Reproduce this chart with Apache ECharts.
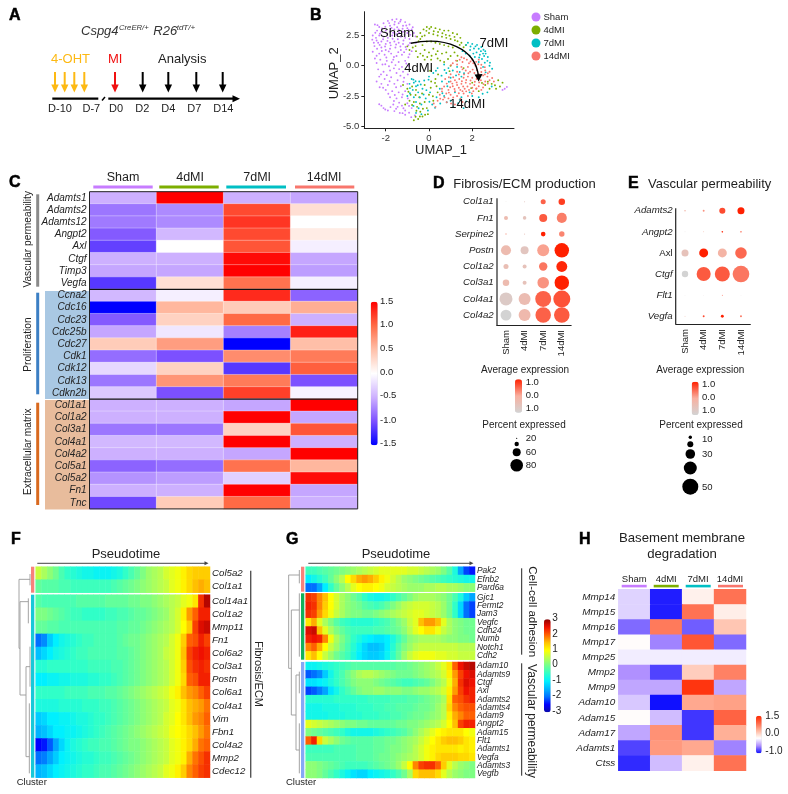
<!DOCTYPE html>
<html>
<head>
<meta charset="utf-8">
<title>Cspg4 lineage panels</title>
<style>
html,body{margin:0;padding:0;background:#fff;}
#main{width:788px;height:794px;}
</style>
<script src="https://cdn.jsdelivr.net/npm/echarts@6/dist/echarts.min.js"></script>
</head>
<body>
<div id="main"></div>
<script>
var fontName = '"Liberation Sans", Arial, sans-serif';
var groups = ['Sham', '4dMI', '7dMI', '14dMI'];
var groupColors = ['#C77CFF', '#7CAE00', '#00BFC4', '#F8766D'];

// panel B, UMAP coordinates
var umapSham = [[-2.5,3.4],[-2.3,3.2],[-2.1,3.5],[-1.9,3.7],[-1.7,3.8],[-1.5,3.85],[-1.3,3.8],[-1.1,3.6],[-0.9,3.4],[-1.8,3.3],[-1.6,3.4],[-1.4,3.5],[-1.2,3.3],[-1,3.1],[-0.8,3.0],[-2.4,2.9],[-2.2,2.8],[-2,2.9],[-1.8,2.8],[-1.6,3],[-1.4,3],[-1.2,2.8],[-1,2.7],[-0.7,2.7],[-2.6,2.5],[-2.45,2.3],[-2.3,2.5],[-2.1,2.4],[-1.9,2.3],[-1.7,2.5],[-1.5,2.6],[-1.3,2.4],[-1.1,2.3],[-0.9,2.2],[-2.55,1.9],[-2.35,1.9],[-2.2,2],[-2,1.8],[-1.8,1.9],[-1.6,2],[-1.4,1.9],[-1.2,1.8],[-0.95,1.7],[-0.6,1.9],[-2.4,1.4],[-2.2,1.5],[-2,1.3],[-1.8,1.4],[-1.55,1.5],[-1.3,1.3],[-1.05,1.35],[-0.8,1.2],[-2.3,1],[-2.05,.9],[-1.75,1],[-1.5,.8],[-1.25,.9],[-.95,.7],[-2.5,.6],[-2.25,.5],[-1.95,.4],[-1.65,.5],[-1.4,.3],[-1.1,.4],[-2.15,.1],[-1.85,-.05],[-1.55,.05],[-1.25,-.1],[-.95,0],[-2.35,-.3],[-2.1,-.5],[-1.8,-.4],[-1.5,-.6],[-1.2,-.5],[-2.3,-.9],[-2.05,-1.1],[-1.75,-.95],[-1.45,-1.2],[-1.15,-1],[-2.2,-1.5],[-1.9,-1.6],[-1.6,-1.5],[-1.3,-1.7],[-1.0,-1.5],[-2.0,-2.0],[-1.7,-2.1],[-1.4,-2.2],[-1.1,-2.1],[-1.8,-2.6],[-1.5,-2.7],[-1.25,-2.6],[-2.2,-3.3],[-2.1,-3.5],[-1.9,-3.7],[-1.65,-3.2],[-1.45,-3.4],[-1.25,-3.3],[-1.6,-3.75],[-1.35,-3.9],[-1.1,-3.7],[-1.0,-3.1],[-.8,-3.5],[-.65,-4.1],[-1.1,-4.05],[3.6,-1.75],[3.5,-1.9],[3.4,-2.0],
  [-2.62,2.15],[-2.48,2.72],[-2.38,3.35],[-2.27,2.65],[-2.17,3.08],[-2.02,3.22],[-1.93,2.62],[-1.84,3.52],[-1.73,3.12],[-1.66,2.72],[-1.58,3.62],[-1.47,3.18],[-1.38,2.75],[-1.33,3.65],[-1.22,3.05],[-1.13,2.55],[-1.05,3.32],[-.94,2.95],[-.86,2.55],[-.75,3.18],[-.62,2.42],[-2.52,1.62],[-2.42,2.08],[-2.28,1.72],[-2.12,2.18],[-2.03,1.58],[-1.92,2.05],[-1.77,1.68],[-1.68,2.22],[-1.52,1.75],[-1.44,2.18],[-1.32,1.58],[-1.18,2.08],[-1.08,1.55],[-.88,1.88],[-2.6,1.15],[-2.42,.82],[-2.18,1.22],[-1.97,.68],[-1.86,1.18],[-1.62,.72],[-1.42,1.12],[-1.15,1.12],[-.9,.95],[-2.42,.22],[-2.02,.12],[-1.72,.28],[-1.38,-.28],[-1.05,.18],[-2.22,-.72],[-1.95,-.78],[-1.62,-.22],[-1.32,-.82],[-.98,-.72],[-2.42,-1.3],[-2.12,-1.82],[-1.82,-1.28],[-1.52,-1.78],[-1.18,-1.32],[-2.28,-1.78],[-1.88,-2.32],[-1.58,-2.42],[-1.22,-2.38],[-.98,-2.7],[-1.62,-2.92],[-1.38,-3.05],[-2.3,-3.18],[-2.02,-3.62],[-1.78,-3.42],[-1.52,-3.55],[-1.18,-3.52],[-.92,-3.32],[-1.22,-3.92],[-.92,-3.88],[-.82,-4.25]];
var umap4d = [[-1.0,1.6],[-.9,1.3],[-.75,1.5],[-.55,2.4],[-.4,2.7],[-.25,3],[-.1,3.2],[.1,3.2],[.3,3.1],[.5,3],[.7,2.9],[.9,2.9],[1.1,2.7],[1.3,2.6],[1.45,2.3],[-.4,2.2],[-.2,2.5],[0,2.7],[.2,2.6],[.4,2.5],[.6,2.4],[.8,2.3],[1,2.2],[1.2,2.1],[1.5,1.9],[1.7,1.7],[-.3,1.7],[-.1,2],[.1,2],[.3,1.9],[.5,1.8],[.7,1.7],[.9,1.6],[1.1,1.5],[-.6,1.2],[-.4,1],[-.2,1.3],[0,1.1],[.2,1.4],[.4,1.2],[.6,1],[.8,1.1],[1,.8],[-.2,.5],[.1,.5],[.4,.6],[.7,.3],[-1.2,-1.6],[-1,-1.9],[-.85,-2.4],[-.9,-2.9],[-1.1,-3.2],[-.7,-3],[-.55,-3.4],[-.4,-3.8],[-.3,-4.2],[-.5,-4.4],[-.7,-4.5],[-.1,-3.5],[-.2,-3],[-.45,-2.6],[-.6,-2],[-.2,-1.6],[.1,-1.3],[.3,-1.1],[0,-2.4],[.2,-2.9],[.4,-2.2],[-.05,-4],[.35,-1.7],[2.6,-1.6],[2.9,-1.5],[3.2,-1.2],[3.4,-1.4],[3.1,-1.9],[2.8,-1.9],[2.3,-2.1],[2,-1.4],[1,.0],[1.3,.4],[1.6,-.2],
  [-.62,1.62],[-.48,2.02],[-.32,2.42],[-.12,2.88],[.02,3.05],[.22,2.85],[.42,2.78],[.62,2.68],[.78,2.55],[.95,2.48],[1.18,2.38],[1.32,2.02],[1.42,1.72],[1.6,1.52],[-.52,.72],[-.28,.82],[-.08,.72],[.12,.82],[.32,.95],[.52,.42],[.88,.55],[1.18,1.1],[1.32,.82],[-.95,-2.15],[-.78,-1.72],[-.62,-2.42],[-.78,-3.25],[-.58,-3.72],[-.42,-3.12],[-.28,-3.55],[-.18,-4.05],[-.42,-4.2],[-.62,-4.22],[-.32,-2.3],[.08,-1.82],[.18,-2.52],[.28,-1.42],[.42,-.72],[.05,-.42],[2.45,-1.42],[3.05,-1.62],[3.28,-1.72],[2.72,-1.32],[1.95,-1.85],[.95,-.45]];
var umap7d = [[1.8,1.9],[2,1.8],[2.15,1.6],[2.3,1.4],[2.4,1.2],[2.5,1],[2.55,.8],[2.2,1.1],[2.35,.9],[2.6,1.2],[1.9,1.3],[2.05,1],[1.7,1.0],[1.55,1.2],[2.45,.55],[2.7,.4],[2.8,.0],[2.5,-.1],[2.3,.3],[.9,-.2],[1.1,-.4],[1.3,-.1],[.8,-.6],[1,-1],[1.25,-.8],[1.5,-.9],[-.8,-1.1],[-.7,-1.4],[-.6,-1.7],[-.75,-2],[-.45,-1.3],[-.3,-1.9],[-.5,-2.2],[-.7,-2.6],[-.9,-1.5],[-1,-2.5],[-.6,-3],[-.35,-3.2],[-.15,-2.7],[.05,-2.2],[.15,-3.2],[.35,-2.6],[-.05,-3.7],[.5,-1.9],[.7,-2.5],[.6,-1.3],[.85,-1.7],[-.35,-4],[-.6,-3.9],[1,-2.9],[1.35,-3.1],[1.6,-3.5],[1.5,-2.6],[1.2,-2.2],[2,-2.5],[2.3,-2.6],[2.7,-2.2],[.2,-.6],[.0,-.9],[.4,-.2],[.7,.1],
  [1.72,1.72],[1.92,1.58],[2.08,1.42],[2.22,1.72],[2.42,1.55],[2.52,1.32],[2.62,1],[2.72,.72],[2.32,.68],[2.12,.72],[1.88,.82],[2.58,.25],[2.82,.25],[2.92,-.25],[2.62,-.55],[.72,-.35],[.58,-.82],[.92,-1.32],[1.42,-.52],[1.62,-.62],[-.88,-1.85],[-.72,-1.15],[-.62,-1.28],[-.52,-1.62],[-.38,-1.55],[-.22,-1.22],[-.12,-2.02],[-.88,-2.28],[-.42,-2.62],[-.25,-2.38],[-.72,-3.32],[-.48,-3.52],[.02,-2.98],[.28,-3.48],[.52,-3.12],[.62,-2.28],[.82,-3.02],[1.12,-3.42],[1.42,-2.82],[1.72,-2.95],[1.88,-2.2],[2.48,-2.32],[2.9,-1.72],[-.02,-1.15],[.32,-.42]];
var umap14d = [[.75,-1.1],[1,-.7],[1.3,-.5],[1.55,-.3],[1.8,-.1],[2.05,.2],[2.3,.5],[1.5,.7],[1.75,.5],[2,.5],[1.55,.3],[1.85,.2],[2.15,0],[2.4,-.2],[2.6,-.4],[2.8,-.5],[1.1,.2],[1.3,.1],[1.5,-.1],[1.7,-.4],[1.9,-.5],[2.1,-.6],[2.3,-.7],[2.5,-.8],[2.7,-.9],[1,-1.3],[1.2,-1.2],[1.4,-1.1],[1.6,-1],[1.8,-.9],[2,-1],[2.2,-1.1],[2.4,-1.2],[2.6,-1.3],[2.8,-1.2],[3,-1.3],[.6,-1.9],[.9,-2],[1.1,-1.7],[1.3,-1.6],[1.5,-1.5],[1.7,-1.4],[1.9,-1.5],[2.1,-1.6],[2.3,-1.7],[2.5,-1.8],[.5,-2.4],[.8,-2.3],[1,-2.4],[1.2,-2.1],[1.45,-2],[1.65,-1.9],[1.85,-2],[2.05,-2.1],[.4,-2.9],[.65,-2.8],[.9,-2.7],[1.3,-2.5],[1.6,-2.3],[1.8,-2.5],[1.2,-3.2],[.3,-3.4],
  [1.02,.05],[1.25,.42],[1.42,.5],[1.62,.62],[1.92,.35],[2.18,.32],[2.28,.12],[2.42,.08],[2.58,-.12],[.92,-.95],[1.12,-.95],[1.38,-.72],[1.62,-.72],[1.82,-.62],[2.02,-.32],[2.22,-.38],[2.42,-.52],[2.58,-.72],[2.72,-.62],[.82,-1.48],[1.08,-1.48],[1.28,-1.38],[1.52,-1.28],[1.72,-1.18],[1.92,-1.22],[2.12,-1.32],[2.32,-1.38],[2.52,-1.52],[2.72,-1.48],[2.92,-1.02],[.7,-1.72],[.98,-1.78],[1.18,-1.92],[1.38,-1.82],[1.58,-1.72],[1.78,-1.72],[2,-1.82],[2.2,-1.88],[2.42,-2],[.6,-2.12],[.72,-2.62],[.92,-2.22],[1.12,-2.62],[1.38,-2.28],[1.55,-2.1],[1.72,-2.12],[1.98,-2.3],[.52,-2.72],[.82,-3.02],[1.02,-3.12],[1.45,-2.72],[.22,-3.12],[1.55,-3.0],[2.18,-1.9]];

// panel C
var cGenes = ['Adamts1','Adamts2','Adamts12','Angpt2','Axl','Ctgf','Timp3','Vegfa','Ccna2','Cdc16','Cdc23','Cdc25b','Cdc27','Cdk1','Cdk12','Cdk13','Cdkn2b','Col1a1','Col1a2','Col3a1','Col4a1','Col4a2','Col5a1','Col5a2','Fn1','Tnc'];
var cValues = [
  [-0.5,1.5,-0.5,-0.55],[-0.8,-0.7,1.15,0.25],[-0.78,-0.7,1.25,0.0],[-0.95,-0.45,1.15,0.15],
  [-1.1,0.0,1.1,-0.1],[-0.5,-0.5,1.45,-0.55],[-0.55,-0.55,1.5,-0.6],[-1.15,0.25,0.95,-0.1],
  [-0.45,-0.1,1.3,-0.9],[-1.5,0.55,0.4,0.6],[-0.95,0.35,1.0,-0.5],[-0.55,-0.15,-0.75,1.35],
  [0.4,0.7,-1.5,0.5],[-0.85,-1.0,0.8,0.9],[-0.25,0.35,-1.15,1.05],[-0.8,0.75,0.9,-1.0],[-0.35,-1.0,1.2,-0.08],
  [-0.5,-0.5,-0.55,1.5],[-0.5,-0.5,1.5,-0.55],[-0.8,-0.8,0.35,1.1],[-0.45,-0.45,1.5,-0.5],[-0.5,-0.5,-0.55,1.5],
  [-0.9,-0.85,0.95,0.55],[-0.65,-0.6,-0.3,1.45],[-0.5,-0.5,1.5,-0.55],[-1.05,0.4,1.0,-0.5]
];

// panel D, per gene: average expression and percent expressed per group
var dGenes = ['Col1a1','Fn1','Serpine2','Postn','Col1a2','Col3a1','Col4a1','Col4a2'];
var dAvg = [[-.8,-.6,.55,.8],[-.3,-.55,.6,.35],[0,-.5,1,.3],[-.3,-.6,.1,1],[-.4,-.5,.4,.95],[-.3,-.5,.2,1],[-.75,-.35,.55,.65],[-1,-.25,.55,.6]];
var dPct = [[20,23,42,49],[37,35,56,66],[25,23,40,44],[66,56,75,87],[42,37,58,70],[49,37,73,87],[80,75,94,99],[70,75,92,92]];

// panel E
var eGenes = ['Adamts2','Angpt2','Axl','Ctgf','Flt1','Vegfa'];
var eAvg = [[-.2,.2,.7,1],[-.8,-.2,.9,.4],[-.5,1,-.1,.5],[-1,.6,.6,.4],[-.8,-.8,.6,-.8],[-.3,.7,1,.4]];
var ePct = [[5,6,19,22],[2,3,5,5],[22,28,28,36],[20,44,47,52],[1,1,3,1],[3,6,9,6]];

// panel F, pseudotime bins left to right
var fTopGenes = ['Col5a2','Col1a1'];
var fTopValues = [
  [.6,.4,.2,0,-.3,-.5,-.6,-.7,-.8,-.8,-.9,-.9,-.9,-.8,-.7,-.5,-.3,-.1,.1,.3,.4,.5,.7,.8,.9,1.1,1.3,1.4,1.4,1.4],
  [-.1,-.2,-.2,-.2,-.3,-.3,-.4,-.4,-.4,-.4,-.4,-.4,-.4,-.3,-.2,-.1,0,.1,.2,.3,.4,.5,.6,.8,.9,1.1,1.3,1.5,1.6,1.5]
];
var fGenes = ['Col14a1','Col1a2','Mmp11','Fn1','Col6a2','Col3a1','Postn','Col6a1','Col4a1','Vim','Fbn1','Col4a2','Mmp2','Cdec12'];
var fValues = [
  [-.2,-.3,-.3,-.3,-.3,-.3,-.3,-.2,-.2,-.2,-.2,-.2,-.1,-.1,-.1,-.1,0,0,.1,.1,.2,.3,.4,.5,.6,.8,.9,1.2,2.3,2.8],
  [.1,.1,0,-.1,-.2,-.3,-.4,-.4,-.5,-.5,-.5,-.5,-.4,-.4,-.3,-.3,-.2,-.1,-.1,0,.1,.2,.3,.5,.7,1.1,1.7,2,2.4,2.4],
  [-.1,-.1,-.2,-.2,-.3,-.3,-.3,-.3,-.3,-.3,-.3,-.3,-.3,-.3,-.2,-.2,-.1,-.1,0,.1,.2,.3,.4,.5,.7,1,1.4,2.2,2.6,2.7],
  [-2,-1.8,-1.3,-1,-.8,-.7,-.6,-.5,-.4,-.4,-.3,-.3,-.3,-.3,-.2,-.1,0,0,.1,.2,.3,.4,.5,.7,.9,1.4,2,2.1,2.4,2.2],
  [-1.4,-1.2,-1,-.8,-.7,-.6,-.5,-.4,-.4,-.3,-.3,-.3,-.3,-.3,-.2,-.2,-.1,0,.1,.2,.3,.4,.6,.7,.9,1.5,2.2,2.4,2.5,2.4],
  [-.6,-.6,-.5,-.5,-.5,-.5,-.5,-.5,-.5,-.4,-.4,-.4,-.4,-.3,-.3,-.2,-.1,0,.1,.2,.3,.4,.5,.7,.9,1.4,2.1,2.3,2.4,2.3],
  [-1,-1,-.9,-.9,-.8,-.8,-.7,-.7,-.7,-.6,-.6,-.5,-.5,-.4,-.3,-.2,-.1,0,.1,.2,.3,.4,.5,.7,.9,1.3,2,2.1,2.4,2.4],
  [-.5,-.5,-.5,-.5,-.5,-.4,-.4,-.4,-.4,-.3,-.3,-.3,-.2,-.2,-.1,0,.1,.2,.3,.4,.5,.6,.7,.9,1.1,1.5,1.7,1.8,2,2.2],
  [-.7,-.7,-.7,-.7,-.6,-.6,-.6,-.6,-.5,-.5,-.5,-.4,-.4,-.3,-.2,-.1,0,.1,.2,.3,.4,.5,.6,.8,.9,1.2,1.5,1.6,1.7,1.9],
  [-1.3,-1.2,-1,-1,-.9,-.9,-.8,-.7,-.7,-.6,-.5,-.5,-.4,-.3,-.2,-.1,0,.1,.2,.3,.4,.5,.7,.8,1,1.2,1.5,1.7,1.8,2],
  [-1.5,-1.4,-1.2,-1,-1,-.9,-.9,-.8,-.7,-.6,-.5,-.4,-.3,-.2,-.1,0,.1,.2,.3,.4,.5,.6,.7,.9,1,1.1,1.3,1.5,1.7,1.9],
  [-2.5,-2.4,-2.1,-1.6,-1.2,-.9,-.7,-.6,-.5,-.4,-.4,-.3,-.3,-.2,-.1,0,.1,.1,.2,.3,.4,.5,.6,.8,.9,1.1,1.3,1.6,1.9,2],
  [-2,-1.9,-1.6,-1.3,-1,-.9,-.8,-.7,-.6,-.6,-.5,-.4,-.4,-.3,-.2,-.1,0,.1,.2,.3,.4,.5,.6,.8,.9,1.1,1.6,1.9,2.1,2.3],
  [-1.5,-1.4,-1.2,-1,-.9,-.8,-.7,-.6,-.5,-.5,-.4,-.3,-.3,-.2,-.1,0,.1,.2,.3,.4,.5,.6,.8,.9,1.1,1.4,1.8,2,2.2,2.3]
];

// panel G
var gTopGenes = ['Pak2','Efnb2','Pard6a'];
var gTopValues = [
  [-.4,-.4,-.3,-.2,-.1,0,.1,.2,.3,.4,.5,.6,.7,.8,.8,.8,.8,.8,.7,.7,.6,.5,.4,.3,.1,-.2,-.7,-1.6,-2.2,-2.4],
  [-1,-.8,-.6,-.4,-.1,.2,.5,1,1.3,1.6,1.7,1.6,1.4,1.1,.9,.7,.5,.3,.2,.1,0,-.1,-.2,-.3,-.4,-.5,-.6,-.7,-.8,-.8],
  [-2,-2,-1.6,-1,-.5,-.1,.2,.5,.8,1,1.1,1.1,1,.9,.7,.6,.5,.4,.3,.3,.3,.4,.4,.5,.5,.4,.4,.3,.2,.2]
];
var gMidGenes = ['Gjc1','Fermt2','Jam3','Vegfc','Cdh24','Numb','Notch1','Cdh2'];
var gMidValues = [
  [2.3,2.2,1.8,1.5,1,.7,.4,.2,0,-.2,-.5,-.7,-.8,-.8,-.7,-.5,-.3,-.1,.1,.3,.4,.4,.4,.3,.2,0,-.3,-.7,-1.3,-1.6],
  [2.4,2.3,1.8,1.4,1,.7,.4,.2,.1,0,-.2,-.3,-.4,-.3,-.1,.1,.3,.5,.6,.7,.7,.7,.6,.5,.3,0,-.5,-1.2,-2,-2.2],
  [2.3,2.2,1.7,1.3,.9,.6,.4,.2,.1,.1,0,0,.1,.2,.3,.4,.5,.6,.7,.8,.8,.7,.6,.5,.3,0,-.5,-1.2,-2,-2.2],
  [1.2,1.6,.8,.4,.1,-.2,-.4,-.5,-.6,-.6,-.6,-.6,-.5,-.4,-.3,-.1,.1,.3,.6,.8,1.5,1.7,1.7,1.5,.8,.4,.2,.1,0,0],
  [2.6,2.7,1.5,.8,.4,.1,-.1,-.3,-.4,-.4,-.4,-.4,-.3,-.3,-.2,-.1,0,.2,.5,.8,1,1.2,1.2,.9,.6,.4,.2,.1,0,0],
  [2.4,2.5,2.4,1.8,.9,.4,.1,-.2,-.5,-.7,-.9,-1,-1.1,-1.1,-1,-.7,-.4,-.1,.2,.3,.4,.4,.4,.4,.3,.2,.2,.1,.1,0],
  [1.8,2,1.6,1,.6,.3,0,-.3,-.6,-.9,-1.2,-1.4,-1.4,-1.3,-1,-.6,-.2,.1,.3,.5,.6,.6,.6,.6,.6,.6,.6,.5,.5,.5],
  [1.2,1.5,1,.6,.3,0,-.2,-.4,-.7,-1,-1.2,-1.3,-1.3,-1.2,-.9,-.5,-.1,.3,.6,.8,.9,.9,.9,.8,.8,.7,.7,.6,.6,.6]
];
var gLowGenes = ['Adam10','Adamts9','Ctgf','Axl','Adamts2','Adamts4','Adam9','Angpt2','Adam15','Flt1','Adamts1','Vegfa','Adamts3','Vegfb'];
var gLowValues = [
  [-.9,-.9,-.8,-.7,-.6,-.5,-.4,-.3,-.2,-.2,-.2,-.2,-.2,-.2,-.2,-.2,-.1,-.1,0,.1,.2,.3,.4,.6,.8,1.2,2,2.5,2.7,2.8],
  [-2.1,-2,-1.8,-1.3,-.8,-.5,-.3,0,.2,.4,.5,.5,.4,.3,.2,.1,0,0,0,.1,.2,.3,.4,.5,.7,1.1,1.7,2.2,2.5,2.6],
  [-1.1,-1.1,-1,-.9,-.7,-.5,-.3,-.1,.1,.2,.2,.2,.1,0,-.1,-.2,-.3,-.4,-.4,-.3,-.2,-.1,.1,.3,.5,.9,1.6,2.3,2.6,2.5],
  [-2.2,-2.1,-1.9,-1.6,-1.1,-.8,-.5,-.3,-.1,.1,.2,.2,.3,.3,.2,.2,.2,.1,.1,.2,.3,.3,.4,.5,.7,1.1,1.7,2.2,2.5,2.4],
  [-.6,-.6,-.6,-.6,-.6,-.5,-.5,-.5,-.5,-.5,-.5,-.4,-.4,-.4,-.4,-.3,-.3,-.3,-.2,-.2,-.1,0,.1,.2,.4,1.2,2,2.1,2.3,2.4],
  [-.8,-.8,-.8,-.7,-.7,-.7,-.6,-.6,-.6,-.5,-.5,-.5,-.4,-.4,-.3,-.3,-.2,-.2,-.2,-.1,0,0,.1,.3,.5,1.3,1.8,2,2.1,2.1],
  [-.8,-.8,-.8,-.8,-.7,-.7,-.7,-.6,-.6,-.6,-.5,-.5,-.5,-.4,-.4,-.3,-.3,-.2,-.1,0,0,.1,.2,.3,.5,1.1,1.6,1.8,2,2],
  [.8,.7,.6,.5,.4,.3,.2,.1,.1,0,0,-.1,-.1,-.1,-.1,-.1,0,0,.1,.1,.2,.3,.4,.5,.7,1,1.5,2.2,2.4,2.4],
  [.1,0,-.1,-.2,-.3,-.4,-.5,-.7,-.8,-.8,-.8,-.8,-.7,-.6,-.5,-.4,-.3,-.2,0,.2,.4,.6,.8,1,1.1,1.2,1.2,1.2,1,.9],
  [2,2.4,1.3,.6,.4,.2,0,-.1,-.2,-.2,-.2,-.2,-.1,-.1,0,0,.1,.2,.3,.4,.6,.8,1,1.2,1.4,1.5,1.5,1.4,1.2,1.1],
  [-.4,-.4,-.4,-.4,-.4,-.3,-.3,-.3,-.3,-.2,-.2,-.2,-.1,-.1,0,.1,.1,.2,.3,.5,.7,.9,1.1,1.2,1.2,1.2,1.2,1.1,1.2,1.1],
  [-.3,-.3,-.3,-.3,-.3,-.3,-.3,-.3,-.3,-.2,-.2,-.2,-.1,0,0,.1,.2,.3,.4,.5,.7,.9,1.1,1.3,1.4,1.4,1.4,1.3,1.3,1.2],
  [.2,.2,.1,0,-.1,-.2,-.3,-.4,-.4,-.4,-.4,-.3,-.2,-.1,0,.1,.3,.6,1,1.8,2.2,2.3,2.3,2,1.4,.8,.5,.3,.2,.1],
  [.2,.2,.1,-.1,-.3,-.5,-.7,-.9,-1.1,-1.2,-1.2,-1,-.9,-.8,-.7,-.5,-.3,0,.4,1.3,1.5,1.5,1.5,1.3,.8,.5,.3,.2,.1,.1]
];

// panel H
var hGenes = ['Mmp14','Mmp15','Mmp16','Mmp17','Mmp25','Mmp2','Mmp9','Adam10','Adam15','Adam17','Adamts1','Ctss'];
var hValues = [
  [-0.2,-0.95,0.1,0.95],[-0.2,-0.95,0.95,0.12],[-0.65,0.9,-0.7,0.4],[0.02,-0.55,1.15,-0.65],
  [-0.08,-0.08,-0.08,-0.08],[-0.5,-0.8,0.35,0.85],[-0.4,-0.4,1.4,-0.4],[-0.25,-1.0,0.6,0.65],
  [0.02,-0.3,-0.85,1.05],[-0.4,0.75,-0.85,0.55],[-0.8,0.7,0.6,-0.55],[-0.9,-0.3,0.1,0.95]
];

var pseudotimeBins = fValues[0].map(function (v, i) { return i; });

function cells(matrix) {
  var out = [];
  matrix.forEach(function (row, r) {
    row.forEach(function (v, c) { out.push([c, r, v]); });
  });
  return out;
}
function dots(avg, pct) {
  var out = [];
  avg.forEach(function (row, r) {
    row.forEach(function (v, c) { out.push([c, r, v, pct[r][c]]); });
  });
  return out;
}

// ---- drawn decoration, absolute pixels
var deco = [];
function text(x, y, s, o) {
  o = o || {};
  deco.push({
    type: 'text', x: x, y: y, rotation: o.rot || 0, z: 20, silent: true,
    style: {
      text: s, fill: o.color || '#222',
      font: (o.italic ? 'italic ' : '') + (o.weight ? o.weight + ' ' : '') + (o.size || 10) + 'px ' + fontName,
      textAlign: o.align || 'left', textVerticalAlign: 'middle',
      stroke: o.stroke || null, lineWidth: o.stroke ? 0.5 : 0
    }
  });
}
function letter(x, y, s) { text(x, y, s, { size: 16, weight: 'bold', color: '#000', stroke: '#000' }); }
function rect(x, y, w, h, color, z) {
  deco.push({ type: 'rect', silent: true, z: z === undefined ? 20 : z, shape: { x: x, y: y, width: w, height: h }, style: { fill: color } });
}
function line(x1, y1, x2, y2, color, width, z) {
  deco.push({ type: 'line', silent: true, z: z || 20, shape: { x1: x1, y1: y1, x2: x2, y2: y2 }, style: { stroke: color, lineWidth: width } });
}
function head(x, y, color, dir, w, h) {
  // dir d = pointing down, r = pointing right
  var pts = dir === 'd' ? [[x - w / 2, y - h], [x + w / 2, y - h], [x, y]] : [[x - h, y - w / 2], [x - h, y + w / 2], [x, y]];
  deco.push({ type: 'polygon', silent: true, z: 20, shape: { points: pts }, style: { fill: color } });
}
function downArrow(x, color) {
  line(x, 72, x, 86, color, 2);
  head(x, 92.5, color, 'd', 7.5, 8);
}
function rightArrow(x1, x2, y, color, width, hw, hh) {
  line(x1, y, x2 - hh + 1, y, color, width);
  head(x2, y, color, 'r', hw, hh);
}
function tree(ox, oy, segs) {
  segs.forEach(function (s) {
    line(ox + s[0] / 3, oy + s[1] / 3, ox + s[2] / 3, oy + s[3] / 3, '#9a9a9a', 0.9);
  });
}

// A
letter(9, 16, 'A');
text(81, 31, 'Cspg4', { size: 13, italic: true, color: '#333' });
text(119, 28, 'CreER/+', { size: 7.7, italic: true, color: '#333' });
text(153.3, 31, 'R26', { size: 13, italic: true, color: '#333' });
text(176.7, 28, 'tdT/+', { size: 8, italic: true, color: '#333' });
text(51, 59.5, '4-OHT', { size: 13, color: '#FDB913' });
text(108, 59.5, 'MI', { size: 13, color: '#F01010' });
text(158, 59, 'Analysis', { size: 13, color: '#222' });
[55, 64.7, 74.3, 84.3].forEach(function (x) { downArrow(x, '#FDB913'); });
downArrow(115, '#F01010');
[142.7, 168.3, 196.3, 222.7].forEach(function (x) { downArrow(x, '#000'); });
line(52.3, 98.7, 98.3, 98.7, '#000', 2.2);
line(102, 100.5, 105, 97, '#000', 1.5);
rightArrow(108.3, 240, 98.7, '#000', 2.2, 7, 7.5);
[['D-10', 60], ['D-7', 91.3], ['D0', 116], ['D2', 142.3], ['D4', 168.3], ['D7', 194.3], ['D14', 223.3]].forEach(function (d) {
  text(d[1], 108.5, d[0], { size: 11, align: 'center' });
});

// B
letter(310, 16, 'B');
text(397, 33, 'Sham', { size: 13, align: 'center', color: '#111' });
text(494, 43.5, '7dMI', { size: 13, align: 'center', color: '#111' });
text(418.7, 68.5, '4dMI', { size: 13, align: 'center', color: '#111' });
text(467.3, 104, '14dMI', { size: 13, align: 'center', color: '#111' });
text(441, 150.7, 'UMAP_1', { size: 13, align: 'center', color: '#222' });
text(334.3, 73.3, 'UMAP_2', { size: 13, align: 'center', color: '#222', rot: Math.PI / 2 });
deco.push({
  type: 'bezierCurve', silent: true, z: 20,
  shape: { x1: 410.7, y1: 43.3, cpx1: 445, cpy1: 36, cpx2: 476, cpy2: 48, x2: 478.5, y2: 77 },
  style: { stroke: '#000', lineWidth: 1.4, fill: 'none' }
});
deco.push({ type: 'polygon', silent: true, z: 20, shape: { points: [[474.5, 74.5], [482.5, 74], [478.7, 81.5]] }, style: { fill: '#000' } });

// C
letter(9, 183, 'C');
[[93.3, 152.7], [159.3, 218.7], [226.3, 286], [295, 354.3]].forEach(function (b, i) {
  rect(b[0], 185.5, b[1] - b[0], 3, groupColors[i]);
});
rect(45, 291, 44.5, 108, '#A9C8E3', 0);
rect(45, 400, 44.5, 109.5, '#E8BC9C', 0);
rect(36.2, 194.3, 3, 92.4, '#8A8A8A');
rect(36.2, 292.7, 3, 101.6, '#3C7FC4');
rect(36.2, 402.7, 3, 102.3, '#D9691E');
text(28.3, 239.3, 'Vascular permeability', { size: 10.2, align: 'center', rot: Math.PI / 2 });
text(28.3, 344.6, 'Proliferation', { size: 10.2, align: 'center', rot: Math.PI / 2 });
text(28.3, 451.7, 'Extracellular matrix', { size: 10.2, align: 'center', rot: Math.PI / 2 });
deco.push({ type: 'rect', silent: true, z: 21, shape: { x: 89.5, y: 191.7, width: 268.2, height: 317.2 }, style: { fill: 'none', stroke: '#222', lineWidth: 1 } });
line(89.5, 289.3, 357.7, 289.3, '#111', 1.2, 21);
line(89.5, 399.1, 357.7, 399.1, '#111', 1.2, 21);
[['1.5', 301.7], ['1.0', 324], ['0.5', 348.3], ['0.0', 372.7], ['-0.5', 395.7], ['-1.0', 420.3], ['-1.5', 443.3]].forEach(function (t) {
  text(380, t[1], t[0], { size: 9.5 });
});

// D
letter(433, 184, 'D');
text(453.3, 184, 'Fibrosis/ECM production', { size: 13 });
line(497, 198.3, 497, 325, '#222', 1.2);
text(525, 370, 'Average expression', { size: 10, align: 'center' });
[['1.0', 382], ['0.0', 395.3], ['1.0', 408.3]].forEach(function (t) { text(525.7, t[1], t[0], { size: 9.5 }); });
text(524, 425, 'Percent expressed', { size: 10, align: 'center' });
[['20', 438.3], ['60', 452], ['80', 465]].forEach(function (t) { text(525.7, t[1], t[0], { size: 9.5 }); });
[[438.3, 0.6], [444, 2.2], [452.3, 4], [465.3, 6.3]].forEach(function (c) {
  deco.push({ type: 'circle', silent: true, z: 20, shape: { cx: 516.7, cy: c[0], r: c[1] }, style: { fill: '#000' } });
});

// E
letter(628, 184, 'E');
text(648, 184, 'Vascular permeability', { size: 13 });
line(675.7, 208.3, 675.7, 324, '#222', 1.2);
text(700.3, 370, 'Average expression', { size: 10, align: 'center' });
[['1.0', 384], ['0.0', 397.3], ['1.0', 410.7]].forEach(function (t) { text(702, t[1], t[0], { size: 9.5 }); });
text(701, 425, 'Percent expressed', { size: 10, align: 'center' });
[['10', 439], ['30', 454], ['50', 487]].forEach(function (t) { text(702, t[1], t[0], { size: 9.5 }); });
[[437.3, 1.7], [444.3, 3], [454, 4.8], [468, 6.5], [486.7, 8]].forEach(function (c) {
  deco.push({ type: 'circle', silent: true, z: 20, shape: { cx: 690.3, cy: c[0], r: c[1] }, style: { fill: '#000' } });
});

// F
letter(11, 539.5, 'F');
text(126, 554.3, 'Pseudotime', { size: 13, align: 'center' });
rightArrow(37.3, 208.5, 563.3, '#444', 1, 4, 4);
rect(31, 566.7, 3.3, 26, '#F8827B');
rect(31, 594.7, 3.3, 183, '#18C8D8');
line(250.7, 570.7, 250.7, 777.7, '#555', 1.4);
text(257.7, 674, 'Fibrosis/ECM', { size: 11, align: 'center', rot: -Math.PI / 2 });
text(16.7, 782, 'Cluster', { size: 9.5 });
tree(10, 560, [[27,58,60,58],[27,58,27,265],[60,42,60,76],[27,265,30,265],[30,125,30,405],[30,125,55,125],[55,115,55,190],[30,405,48,405],[48,320,48,590],[48,320,60,320],[60,260,60,380],[48,590,58,590],[58,430,58,640]]);

// G
letter(286, 539.5, 'G');
text(396, 554.3, 'Pseudotime', { size: 13, align: 'center' });
rightArrow(308.3, 473.5, 563.3, '#444', 1, 4, 4);
rect(301, 566.7, 3.3, 25, '#F8827B');
rect(301, 593.3, 3.3, 66.4, '#12B05A');
rect(301, 662, 3.3, 116, '#86A8F5');
line(521.7, 568.3, 521.7, 654.7, '#222', 1);
line(521.7, 663.3, 521.7, 775.7, '#222', 1);
text(531.7, 611.7, 'Cell-cell adhesion', { size: 11.5, align: 'center', rot: -Math.PI / 2 });
text(531.7, 721, 'Vascular permeability', { size: 12, align: 'center', rot: -Math.PI / 2 });
text(286, 782, 'Cluster', { size: 9.5 });
tree(282, 560, [[20,45,52,45],[52,30,52,70],[20,45,20,325],[20,325,28,325],[28,150,28,465],[28,150,52,150],[52,100,52,290],[28,465,42,465],[42,345,42,570],[42,345,52,345],[52,335,52,400],[42,570,52,570],[52,490,52,640]]);
[['3', 618.3], ['2', 634], ['1', 649.3], ['0', 664.7], ['-1', 680.3], ['-2', 695.7], ['-3', 711]].forEach(function (t) {
  text(552.3, t[1], t[0], { size: 10 });
});

// H
letter(579, 539.5, 'H');
text(682, 538.3, 'Basement membrane', { size: 13.2, align: 'center' });
text(682, 554.7, 'degradation', { size: 13.2, align: 'center' });
[[621.7, 646.7], [653.7, 678.7], [685.7, 710.7], [718, 743]].forEach(function (b, i) {
  rect(b[0], 584.8, b[1] - b[0], 2.6, groupColors[i]);
});
[['1.5', 716], ['0.0', 733.3], ['-1.0', 751]].forEach(function (t) { text(765.3, t[1], t[0], { size: 10 }); });

// ---- axes
var hidden = { show: false };
function catAxis(gridIndex, data, extra) {
  return Object.assign({
    type: 'category', gridIndex: gridIndex, data: data,
    axisLine: hidden, axisTick: hidden, splitLine: hidden
  }, extra);
}
function geneLabel(size, margin) {
  return { interval: 0, fontStyle: 'italic', fontSize: size, margin: margin, color: '#222', fontFamily: fontName };
}
function heat(i, data, extra) {
  return Object.assign({
    type: 'heatmap', xAxisIndex: i, yAxisIndex: i, data: data,
    emphasis: { disabled: true }, progressive: 0
  }, extra);
}
function umapSeries(name, pts, color) {
  return { type: 'scatter', name: name, xAxisIndex: 0, yAxisIndex: 0, data: pts, symbolSize: 1.9, itemStyle: { color: color, opacity: 1 }, silent: true };
}
var blackAxis = { lineStyle: { color: '#222', width: 1.2 } };

var grids = [
  { left: 364.3, top: 11.7, width: 149.7, height: 116.6 },   // B
  { left: 89.5, top: 191.7, width: 268.2, height: 317.2 },   // C
  { left: 496.7, top: 193.6, width: 74.4, height: 129.6 },   // D
  { left: 675.7, top: 200.2, width: 74.6, height: 126.6 },   // E
  { left: 35.7, top: 566.7, width: 174.3, height: 26 },      // F top
  { left: 35.7, top: 594.7, width: 174.3, height: 183 },     // F main
  { left: 305.7, top: 566.7, width: 169.3, height: 25 },     // G top
  { left: 305.7, top: 593.3, width: 169.3, height: 66.4 },   // G middle
  { left: 305.7, top: 662, width: 169.3, height: 116 },      // G low
  { left: 618.3, top: 589.3, width: 127.7, height: 181.4 }   // H
];

var rotLabel = { rotate: 90, interval: 0, fontSize: 9.5, margin: 5, color: '#222', fontFamily: fontName };

var xAxes = [
  {
    type: 'value', gridIndex: 0, min: -2.99, max: 3.93, splitLine: hidden,
    axisLine: { onZero: false, lineStyle: { color: '#222', width: 1 } },
    axisTick: { length: 3, customValues: [-2, 0, 2], lineStyle: { color: '#222' } },
    axisLabel: { customValues: [-2, 0, 2], fontSize: 9.5, margin: 5, color: '#333', fontFamily: fontName }
  },
  catAxis(1, groups, { position: 'top', axisLabel: { interval: 0, fontSize: 12.5, margin: 8, color: '#222', fontFamily: fontName } }),
  catAxis(2, groups, { position: 'bottom', offset: 1.8, axisLine: blackAxis, axisLabel: rotLabel }),
  catAxis(3, groups, { position: 'bottom', offset: -2.8, axisLine: blackAxis, axisLabel: rotLabel }),
  catAxis(4, pseudotimeBins, { axisLabel: hidden }),
  catAxis(5, pseudotimeBins, { axisLabel: hidden }),
  catAxis(6, pseudotimeBins, { axisLabel: hidden }),
  catAxis(7, pseudotimeBins, { axisLabel: hidden }),
  catAxis(8, pseudotimeBins, { axisLabel: hidden }),
  catAxis(9, groups, { position: 'top', axisLabel: { interval: 0, fontSize: 9.5, margin: 5, color: '#222', fontFamily: fontName } })
];

var yAxes = [
  {
    type: 'value', gridIndex: 0, min: -5.17, max: 4.46, splitLine: hidden,
    axisLine: { onZero: false, lineStyle: { color: '#222', width: 1 } },
    axisTick: { length: 3, customValues: [-5, -2.5, 0, 2.5], lineStyle: { color: '#222' } },
    axisLabel: {
      customValues: [-5, -2.5, 0, 2.5], fontSize: 9.5, margin: 5, color: '#333', fontFamily: fontName,
      formatter: function (v) { return v.toFixed(1); }
    }
  },
  catAxis(1, cGenes, { inverse: true, z: 5, axisLabel: geneLabel(10, 3) }),
  catAxis(2, dGenes, { inverse: true, axisLabel: geneLabel(9.7, 3) }),
  catAxis(3, eGenes.map(function (g) {
    return g === 'Axl' ? { value: g, textStyle: { fontStyle: 'normal' } } : g;
  }), { inverse: true, axisLabel: geneLabel(9.7, 3) }),
  catAxis(4, fTopGenes, { inverse: true, position: 'right', axisLabel: geneLabel(9.7, 2) }),
  catAxis(5, fGenes, { inverse: true, position: 'right', axisLabel: geneLabel(9.7, 2) }),
  catAxis(6, gTopGenes, { inverse: true, position: 'right', axisLabel: geneLabel(8.4, 2) }),
  catAxis(7, gMidGenes, { inverse: true, position: 'right', axisLabel: geneLabel(8.4, 2) }),
  catAxis(8, gLowGenes, { inverse: true, position: 'right', axisLabel: geneLabel(8.4, 2) }),
  catAxis(9, hGenes, { inverse: true, axisLabel: geneLabel(9.9, 3) })
];

var thinWhite = { borderColor: 'rgba(255,255,255,0.55)', borderWidth: 0.6 };
var solidDot = { opacity: 1 };

var series = [
  heat(1, cells(cValues), { itemStyle: thinWhite }),                                   // 0
  umapSeries('Sham', umapSham, groupColors[0]),                                        // 1
  umapSeries('4dMI', umap4d, groupColors[1]),                                          // 2
  umapSeries('7dMI', umap7d, groupColors[2]),                                          // 3
  umapSeries('14dMI', umap14d, groupColors[3]),                                        // 4
  { type: 'scatter', xAxisIndex: 2, yAxisIndex: 2, data: dots(dAvg, dPct), silent: true, itemStyle: solidDot, // 5
    symbolSize: function (d) { return Math.max(0.6, (d[3] - 18) * 0.21); } },
  { type: 'scatter', xAxisIndex: 3, yAxisIndex: 3, data: dots(eAvg, ePct), silent: true, itemStyle: solidDot, // 6
    symbolSize: function (d) { return Math.max(0.5, d[3] * 0.32); } },
  heat(4, cells(fTopValues)),   // 7
  heat(5, cells(fValues)),      // 8
  heat(6, cells(gTopValues)),   // 9
  heat(7, cells(gMidValues)),   // 10
  heat(8, cells(gLowValues)),   // 11
  heat(9, cells(hValues))       // 12
];

function ramp(seriesIndex, min, max, colors, left, top, w, h) {
  return {
    type: 'continuous', seriesIndex: seriesIndex, dimension: 2, min: min, max: max,
    calculable: false, hoverLink: false, text: null, padding: 0,
    left: left, top: top, itemWidth: w, itemHeight: h, inRange: { color: colors }
  };
}
var coolWarm = ['#0000FF', '#7C50FF', '#CDB0FF', '#FFFFFF', '#FFBFA8', '#FF6A45', '#FF0000'];
var coolWarmH = ['#1010FF', '#B090FF', '#FFFFFF', '#FFB8A0', '#FF6A4A', '#FF2800'];
var greyRed = ['#D3D3D3', '#F8B0A0', '#FF2000'];
var jetLike = ['#0A0AA8', '#0000FF', '#0070FF', '#00B4FF', '#00F0FF', '#30FFC8', '#70FF90', '#B8FF50', '#FFFF00', '#FFC000', '#FF6000', '#F01000', '#900000'];

var chart = echarts.init(document.getElementById('main'));
chart.setOption({
  animation: false,
  backgroundColor: '#fff',
  textStyle: { fontFamily: fontName },
  tooltip: { show: false },
  grid: grids,
  xAxis: xAxes,
  yAxis: yAxes,
  series: series,
  visualMap: [
    ramp(0, -1.5, 1.5, coolWarm, 370.7, 301.7, 7, 143.6),
    ramp(5, -1, 1, greyRed, 515, 379.3, 7, 33.4),
    ramp(6, -1, 1, greyRed, 691.7, 381.7, 7, 33.3),
    ramp([7, 8, 9, 10, 11], -3, 3, jetLike, 544, 619.3, 6.7, 93),
    ramp(12, -1, 1.5, coolWarmH, 756, 715.7, 5.7, 37.6)
  ],
  legend: {
    data: groups, orient: 'vertical', left: 531.5, top: 12, padding: 0, itemWidth: 9, itemHeight: 9, itemGap: 3,
    icon: 'circle', selectedMode: false,
    textStyle: { fontSize: 9.5, color: '#222', fontFamily: fontName, padding: [0, 0, 0, -2] }
  },
  graphic: { elements: deco }
});
</script>
</body>
</html>
